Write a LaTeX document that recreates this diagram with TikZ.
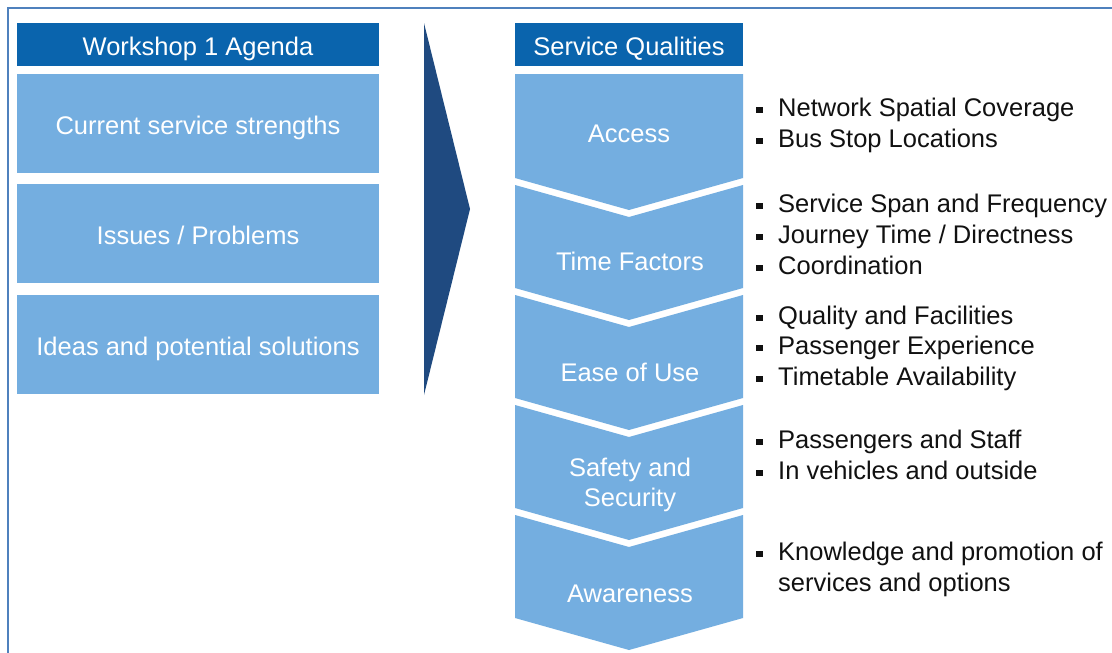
\documentclass[tikz,border=0pt]{standalone}
\usepackage{fontspec}
\setmainfont{Liberation Sans}
\definecolor{hdr}{HTML}{0A64AD}
\definecolor{lite}{HTML}{74AEE0}
\definecolor{navy}{HTML}{1F4A80}
\definecolor{framec}{HTML}{4F81BD}
\definecolor{ink}{HTML}{111111}
\newcommand{\bsq}{\makebox[0pt][r]{\rule[3pt]{6.5pt}{6.5pt}\hspace{15.5pt}}}
\begin{document}
\begin{tikzpicture}[x=1pt,y=-1pt,
  txt/.style={font=\fontsize{25.5}{30.6}\selectfont},
  hdrbox/.style={txt,fill=hdr,text=white,minimum width=362pt,minimum height=43pt,inner sep=0pt,text height=22pt,text depth=0pt},
  litebox/.style={txt,fill=lite,text=white,minimum width=362pt,minimum height=99pt,inner sep=0pt,text height=22pt,text depth=0pt},
  chevlabel/.style={txt,text=white,anchor=base,inner sep=0pt},
  bl/.style={txt,text=ink,anchor=base west,inner sep=0pt},
  chev/.style={fill=lite}
]
\useasboundingbox (0,0) rectangle (1112,653);
\fill[white] (0,0) rectangle (1112,653);
\draw[framec,line width=2.2pt] (8,653) -- (8,8) -- (1112,8);

% left column
\node[hdrbox] (wh) at (198,44.5) {Workshop 1 Agenda};
\node[litebox] (b1) at (198,123.5) {Current service strengths};
\node[litebox] (b2) at (198,233.5) {Issues / Problems};
\node[litebox] (b3) at (198,344) {Ideas and potential solutions};

% big arrow
\fill[navy] (424,23) -- (470,209) -- (424,395) -- cycle;

% right column header
\node[hdrbox,minimum width=228pt] (sq) at (629,44.5) {Service Qualities};

% chevrons
\fill[chev] (515,74) -- (743,74) -- (743,178) -- (629,210) -- (515,178) -- cycle;
\foreach \k in {1,2,3,4}{
  \pgfmathsetmacro{\yt}{185+110*(\k-1)}
  \pgfmathsetmacro{\yb}{178+110*\k}
  \fill[chev] (515,\yt) -- (629,\yt+32) -- (743,\yt) -- (743,\yb) -- (629,\yb+32) -- (515,\yb) -- cycle;
}
\node[chevlabel] (c1) at (629,142) {Access};
\node[chevlabel] (c2) at (630,270) {Time Factors};
\node[chevlabel] (c3) at (630,381) {Ease of Use};
\node[chevlabel] (c4a) at (630,476) {Safety and};
\node[chevlabel] (c4b) at (630,506) {Security};
\node[chevlabel] (c5) at (630,602) {Awareness};

% bullets
\node[bl] (t1) at (778,116) {\bsq Network Spatial Coverage};
\node[bl] (t2) at (778,147) {\bsq Bus Stop Locations};
\node[bl] (t3) at (778,212) {\bsq Service Span and Frequency};
\node[bl] (t4) at (778,243) {\bsq Journey Time / Directness};
\node[bl] (t5) at (778,274) {\bsq Coordination};
\node[bl] (t6) at (778,324) {\bsq Quality and Facilities};
\node[bl] (t7) at (778,354) {\bsq Passenger Experience};
\node[bl] (t8) at (778,385) {\bsq Timetable Availability};
\node[bl] (t9) at (778,448) {\bsq Passengers and Staff};
\node[bl] (t10) at (778,479) {\bsq In vehicles and outside};
\node[bl] (t11) at (778,560) {\bsq Knowledge and promotion of};
\node[bl] (t12) at (778,591) {services and options};
\end{tikzpicture}
\end{document}
